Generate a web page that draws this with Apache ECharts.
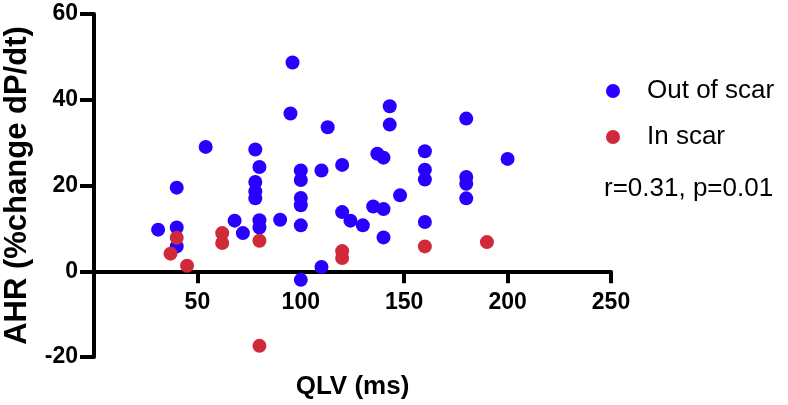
<!DOCTYPE html>
<html>
<head>
<meta charset="utf-8">
<script src="https://cdn.jsdelivr.net/npm/echarts@6/dist/echarts.min.js"></script>
<style>
html,body{margin:0;padding:0;background:#fff;}
#chart{width:788px;height:405px;}
</style>
</head>
<body>
<div id="chart"></div>
<script>
const seriesNames = ['Out of scar', 'In scar'];
const outOfScar = [
  [31,9.7],[40,19.5],[40,10.2],[40,5.8],[54,29],[68,11.8],[72,8.9],
  [78,28.4],[80,24.3],[78,20.8],[78,18.6],[78,17],[80,11.9],[80,10.2],
  [90,12],[95,36.8],[96,48.7],
  [100,23.5],[100,21.3],[100,17.1],[100,15.4],[100,10.7],[100,-2],
  [110,23.5],[110,1],[113,33.6],[120,24.8],[120,13.8],[124,11.8],[130,10.7],
  [135,15.1],[137,27.4],[140,26.5],[140,14.5],[140,7.9],[143,38.5],[143,34.2],[148,17.7],
  [160,28],[160,23.7],[160,21.4],[160,11.5],
  [180,35.6],[180,22],[180,20.4],[180,17],[200,26.2]
];
const inScar = [
  [37,4.1],[40,7.8],[45,1.3],[62,8.9],[62,6.6],[80,7.1],[80,-17.4],
  [120,4.7],[120,3.1],[160,5.8],[190,6.8]
];
const xTicks = [0, 50, 100, 150, 200, 250];
const yTicks = [-20, 0, 20, 40, 60];
const xTitle = 'QLV (ms)';
const yTitle = 'AHR (%change dP/dt)';
const statText = 'r=0.31, p=0.01';

const FONT = '"Liberation Sans", Arial, Helvetica, sans-serif';
const BLUE = '#2800ff';
const RED = '#d02a3a';

const chart = echarts.init(document.getElementById('chart'), null, {renderer: 'canvas'});
const option = {
  backgroundColor: '#ffffff',
  animation: false,
  textStyle: {fontFamily: FONT},
  grid: {left: 94, right: 177, top: 14, bottom: 48, containLabel: false, outerBoundsMode: 'none'},
  legend: {
    orient: 'vertical',
    left: 601,
    top: 73,
    icon: 'circle',
    itemWidth: 14,
    itemHeight: 14,
    itemGap: 20,
    data: seriesNames,
    textStyle: {fontFamily: FONT, fontSize: 26, color: '#000', padding: [0, 0, 0, 22]}
  },
  graphic: [{
    type: 'text',
    left: 604,
    top: 176,
    style: {text: statText, font: '26px ' + FONT, fill: '#000'}
  }],
  xAxis: {
    type: 'value',
    min: xTicks[0],
    max: xTicks[xTicks.length - 1],
    interval: 50,
    name: xTitle,
    nameLocation: 'middle',
    nameGap: 103,
    nameTextStyle: {fontFamily: FONT, fontSize: 26, fontWeight: 'bold', color: '#000'},
    splitLine: {show: false},
    axisLine: {onZero: false, lineStyle: {color: '#000', width: 4}},
    axisTick: {show: true, length: 12, lineStyle: {color: '#000', width: 4}},
    axisLabel: {
      margin: 20, fontFamily: FONT, fontSize: 23, fontWeight: 'bold', color: '#000',
      formatter: v => (v === 0 ? '' : String(v))
    }
  },
  yAxis: {
    type: 'value',
    min: yTicks[0],
    max: yTicks[yTicks.length - 1],
    interval: 20,
    name: yTitle,
    nameLocation: 'middle',
    nameRotate: 90,
    nameGap: 61,
    nameTextStyle: {fontFamily: FONT, fontSize: 31, fontWeight: 'bold', color: '#000'},
    splitLine: {show: false},
    axisLine: {onZero: false, lineStyle: {color: '#000', width: 4}},
    axisTick: {show: true, length: 14, lineStyle: {color: '#000', width: 4}},
    axisLabel: {margin: 16, fontFamily: FONT, fontSize: 23, fontWeight: 'bold', color: '#000'}
  },
  series: [
    {name: seriesNames[0], type: 'scatter', data: outOfScar, symbol: 'circle', symbolSize: 14,
     itemStyle: {color: BLUE, opacity: 1}, z: 3},
    {name: seriesNames[1], type: 'scatter', data: inScar, symbol: 'circle', symbolSize: 14,
     itemStyle: {color: RED, opacity: 1}, z: 4}
  ]
};
chart.setOption(option);
// Move the x axis (line, ticks, labels, name) to y = 0 using the library's own scale.
const yZero = chart.convertToPixel({yAxisIndex: 0}, 0);
const yMin = chart.convertToPixel({yAxisIndex: 0}, yTicks[0]);
chart.setOption({xAxis: {offset: -(yMin - yZero)}});
</script>
</body>
</html>
